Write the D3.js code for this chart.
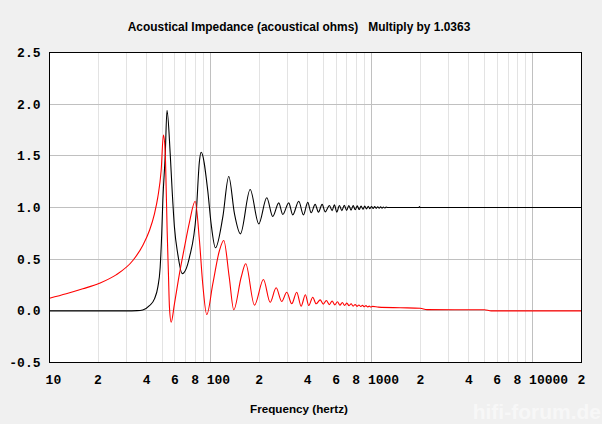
<!DOCTYPE html>
<html><head><meta charset="utf-8">
<script src="https://cdn.jsdelivr.net/npm/d3@7"></script>
<style>
html,body{margin:0;padding:0;background:#f0f0f0;}
svg{display:block;}
</style>
</head><body>
<svg id="chart" width="602" height="424"></svg>
<script>
// ---- data ----
const titleText = "Acoustical Impedance (acoustical ohms)   Multiply by 1.0363";
const xTitleText = "Frequency (hertz)";
const xTickValues = [10,20,40,60,80,100,200,400,600,800,1000,2000,4000,6000,8000,10000,20000];
const xTickLabels = ["10","2","4","6","8","100","2","4","6","8","1000","2","4","6","8","10000","2"];
const xMinorGrid = [20,30,40,50,60,70,80,90,200,300,400,500,600,700,800,900,2000,3000,4000,5000,6000,7000,8000,9000];
const xMajorGrid = [100,1000,10000];
const yTickValues = [-0.5,0,0.5,1,1.5,2,2.5];
const yTickLabels = ["-0.5","0.0","0.5","1.0","1.5","2.0","2.5"];

// black curve (resistive part)
const blackFreq = [10,30,35,37.9,41.7,44.8,47.0,48.6,49.7,50.5,52.2,53.6,56.1,57.7,59.6,62.5,66.6,73.9,81.3,85.2,87.3,95.9,100.7,107.1,118.9,129.5,140.5,153.0,175.8,198.8,222.9,242.8,264.6,280.2,305.2,323.1,352,376.5,400.4,420.2,444.9,466.5,491.7,513.3,545.8,567.2,586,605.8,629.5,652,675,698,720,743,766,789,812,835,858,881,904,927,950,973,996,1019,1042,1065,1088,1111,1134,1157,1180,1203,1226,1250,1400,1960,1975,1990,2200,20000];
const blackVal  = [0,0,0.002,0.008,0.05,0.116,0.23,0.42,0.745,1.07,1.49,1.94,1.52,1.16,0.81,0.55,0.36,0.52,0.94,1.45,1.535,1.165,0.84,0.61,0.906,1.30,0.94,0.745,1.174,0.842,1.094,0.913,1.045,0.932,1.045,0.929,1.061,0.929,1.05,0.949,1.03,0.955,1.03,0.958,1.019,0.97,1.026,0.955,1.019,0.97,1.022,0.972,1.02,0.975,1.018,0.978,1.016,0.98,1.015,0.983,1.013,0.985,1.012,0.988,1.01,0.99,1.008,0.992,1.007,0.993,1.006,0.994,1.005,0.995,1.004,1.0,1.0,1.0,1.008,1.0,1.0,1.0];

// red curve (reactive part)
const redFreq = [10,12.7,16.1,20.4,25.9,32.9,37.9,41.7,44.8,47.0,49.3,50.9,52.2,53.0,53.7,54.7,55.5,56.9,59.6,64.0,68.8,73.9,80.1,85.2,89.3,94.6,103.1,113.4,120.6,130.4,139.1,154.6,165,187,212.6,233.9,254.9,276,296.6,318.5,342,364,387,406,430,451,478,500,522,545,567,590,612,634,656,678,700,722,744,766,788,810,832,854,876,898,920,942,964,986,1010,1100,1500,2000,2200,5000,5500,20000];
const redVal  = [0.122,0.165,0.213,0.267,0.348,0.487,0.632,0.777,0.939,1.10,1.358,1.70,1.55,1.165,0.777,0.36,0.035,-0.11,0.068,0.358,0.616,0.858,1.06,0.68,0.26,-0.036,0.26,0.584,0.68,0.325,0.01,0.325,0.455,0.055,0.303,0.083,0.223,0.09,0.18,0.068,0.18,0.045,0.155,0.051,0.132,0.068,0.106,0.065,0.10,0.06,0.095,0.058,0.088,0.055,0.08,0.052,0.075,0.05,0.068,0.046,0.062,0.044,0.057,0.042,0.053,0.04,0.05,0.038,0.046,0.037,0.043,0.036,0.03,0.025,0.012,0.01,0.0,0.0];

// ---- drawing ----
const svg = d3.select("#chart");
const L = 49.5, R = 581.5, T = 52.5, B = 362.5;
const x = d3.scaleLog().domain([10,20000]).range([L,R]);
const y = d3.scaleLinear().domain([-0.5,2.5]).range([B,T]);
const px = v => Math.round(x(v) - 0.5) + 0.5;
const py = v => Math.round(y(v) - 0.5) + 0.5;

svg.append("rect").attr("width",602).attr("height",424).attr("fill","#f0f0f0");
svg.append("rect").attr("x",L).attr("y",T).attr("width",R-L).attr("height",B-T).attr("fill","#fff");

const grid = svg.append("g").attr("shape-rendering","crispEdges");
grid.selectAll("line.minor").data(xMinorGrid).join("line")
  .attr("x1",px).attr("x2",px).attr("y1",T).attr("y2",B)
  .attr("stroke","#e3e3e3").attr("stroke-width",1);
grid.selectAll("line.major").data(xMajorGrid).join("line")
  .attr("x1",px).attr("x2",px).attr("y1",T).attr("y2",B)
  .attr("stroke","#c0c0c0").attr("stroke-width",1);
grid.selectAll("line.h").data(yTickValues.slice(1,-1)).join("line")
  .attr("x1",L).attr("x2",R).attr("y1",py).attr("y2",py)
  .attr("stroke","#c0c0c0").attr("stroke-width",1);

const line = d3.line().x(d=>x(d[0])).y(d=>y(d[1])).curve(d3.curveMonotoneX);
const blackData = blackFreq.map((f,i)=>[f,blackVal[i]]);
const redData = redFreq.map((f,i)=>[f,redVal[i]]);
svg.append("clipPath").attr("id","clp").append("rect")
  .attr("x",L).attr("y",T).attr("width",R-L).attr("height",B-T);
const plot = svg.append("g").attr("clip-path","url(#clp)");
plot.append("path").attr("d",line(blackData)).attr("fill","none").attr("stroke","#000").attr("stroke-width",1.1);
plot.append("path").attr("d",line(redData)).attr("fill","none").attr("stroke","#ff0000").attr("stroke-width",1.1);

svg.append("rect").attr("x",L).attr("y",T).attr("width",R-L).attr("height",B-T)
  .attr("fill","none").attr("stroke","#000").attr("stroke-width",1).attr("shape-rendering","crispEdges");

const tickFont = "'Liberation Mono', 'DejaVu Sans Mono', monospace";
svg.append("g").selectAll("text").data(yTickValues).join("text")
  .attr("x",40.5).attr("y",d=>y(d)+4.5).attr("text-anchor","end")
  .attr("font-family",tickFont).attr("font-weight","bold").attr("font-size",13).attr("fill","#000")
  .text((d,i)=>yTickLabels[i]);
svg.append("g").selectAll("text").data(xTickValues).join("text")
  .attr("x",d=>x(d)-3.9).attr("y",384).attr("text-anchor","start")
  .attr("font-family",tickFont).attr("font-weight","bold").attr("font-size",13).attr("fill","#000")
  .text((d,i)=>xTickLabels[i]);

function fitText(sel, target){
  const w = sel.node().getComputedTextLength();
  const fs = parseFloat(sel.attr("font-size"));
  sel.attr("font-size", fs*target/w);
}
const title = svg.append("text").attr("x",299).attr("y",31).attr("text-anchor","middle")
  .attr("font-family","'Liberation Sans', Arial, sans-serif").attr("font-weight","bold")
  .attr("font-size",12).attr("fill","#000").attr("xml:space","preserve").style("white-space","pre").text(titleText);
fitText(title, 343);
const xt = svg.append("text").attr("x",299).attr("y",413).attr("text-anchor","middle")
  .attr("font-family","'Liberation Sans', Arial, sans-serif").attr("font-weight","bold")
  .attr("font-size",12).attr("fill","#000").text(xTitleText);
fitText(xt, 98);

svg.append("text").attr("x",601).attr("y",419).attr("text-anchor","end")
  .attr("font-family","'Liberation Sans', Arial, sans-serif").attr("font-weight","bold")
  .attr("font-size",21).attr("fill","#ffffff").attr("opacity",0.5).text("hifi-forum.de");
</script>
</body></html>
